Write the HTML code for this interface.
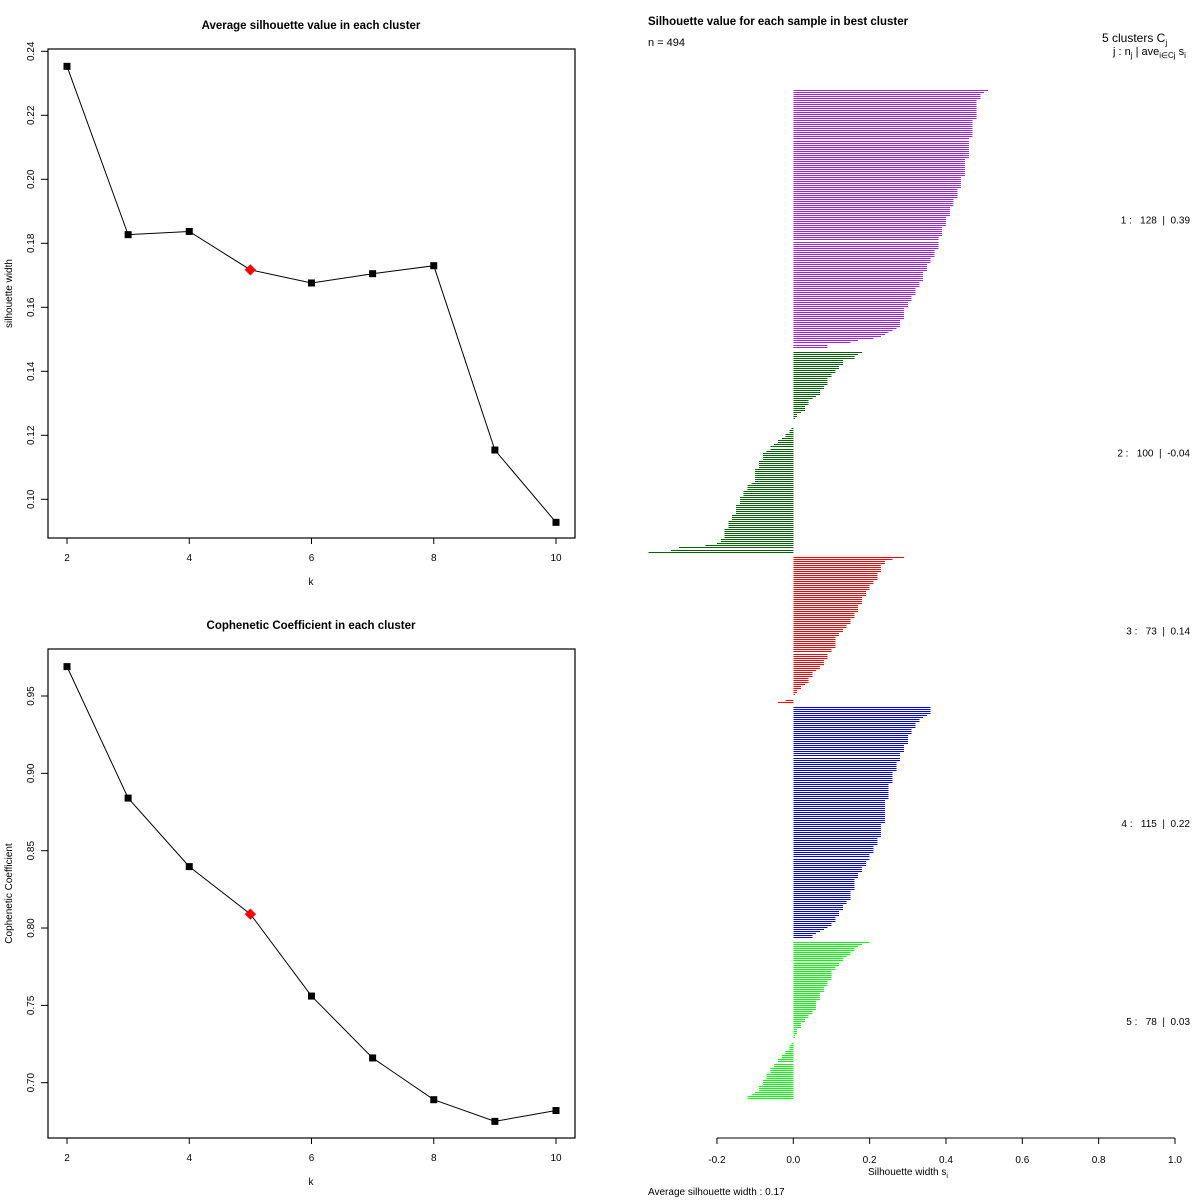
<!DOCTYPE html>
<html><head><meta charset="utf-8"><style>
html,body{margin:0;padding:0;background:#fff;}
svg{display:block;font-family:"Liberation Sans",sans-serif;}
</style></head><body>
<svg id="root" width="1200" height="1200" viewBox="0 0 1200 1200">
<g id="top"></g>
<g id="bot"></g>
<g id="sil"></g>
</svg>
<script>
const kValues=[2,3,4,5,6,7,8,9,10];
const avgSil=[0.2353,0.1827,0.1837,0.1717,0.1676,0.1705,0.1730,0.1154,0.0928];
const coph=[0.969,0.884,0.8397,0.809,0.756,0.716,0.689,0.675,0.682];
const bestK=5;
const topTicks=["0.10","0.12","0.14","0.16","0.18","0.20","0.22","0.24"];
const botTicks=["0.70","0.75","0.80","0.85","0.90","0.95"];
const xTicks=[2,4,6,8,10];
const silTicks=["-0.2","0.0","0.2","0.4","0.6","0.8","1.0"];
const clusterColors=["#A020F0","#006400","#FF0000","#0000FF","#00FF00"];
const clusterLabels=["1 :   128  |  0.39","2 :   100  |  -0.04","3 :   73  |  0.14","4 :   115  |  0.22","5 :   78  |  0.03"];
const sil1=[.51,.50,.49,.49,.49,.48,.48,.48,.48,.48,.48,.48,.48,.48,.48,.47,.47,.47,.47,.47,.47,.47,.47,.47,.46,.46,.46,.46,.46,.46,.46,.46,.46,.46,.45,.45,.45,.45,.45,.45,.45,.45,.45,.44,.44,.44,.44,.44,.44,.43,.43,.43,.43,.43,.42,.42,.42,.42,.41,.41,.41,.41,.41,.40,.40,.40,.40,.40,.39,.39,.39,.39,.39,.38,.38,.38,.38,.38,.38,.37,.37,.37,.37,.36,.36,.36,.35,.35,.35,.35,.34,.34,.34,.34,.34,.33,.33,.33,.32,.32,.32,.32,.31,.31,.31,.30,.30,.30,.29,.29,.29,.29,.29,.29,.28,.28,.28,.28,.27,.26,.25,.24,.23,.21,.17,.15,.09,.09];
const sil2=[.18,.17,.16,.16,.13,.13,.13,.12,.12,.11,.11,.10,.10,.09,.09,.09,.09,.08,.08,.07,.07,.07,.06,.05,.04,.04,.04,.03,.03,.03,.02,.01,.01,.005,0,0,0,0,-.005,-.01,-.01,-.02,-.02,-.03,-.04,-.04,-.05,-.06,-.06,-.07,-.08,-.08,-.08,-.08,-.09,-.09,-.09,-.09,-.1,-.1,-.1,-.1,-.1,-.1,-.1,-.11,-.12,-.12,-.12,-.13,-.13,-.13,-.14,-.14,-.14,-.14,-.15,-.15,-.15,-.15,-.15,-.16,-.16,-.16,-.17,-.17,-.17,-.17,-.18,-.18,-.18,-.18,-.18,-.19,-.19,-.2,-.23,-.30,-.32,-.38];
const sil3=[.29,.26,.24,.24,.23,.23,.23,.23,.22,.22,.22,.22,.21,.21,.20,.20,.20,.19,.19,.19,.18,.18,.18,.18,.17,.17,.17,.17,.16,.16,.16,.15,.15,.15,.14,.14,.13,.13,.12,.12,.11,.11,.11,.11,.11,.11,.10,.10,.09,.09,.09,.08,.08,.08,.07,.07,.06,.05,.05,.05,.04,.04,.04,.03,.02,.02,.01,.01,.005,0,0,-.02,-.04];
const sil4=[.36,.36,.36,.36,.35,.34,.33,.33,.32,.32,.32,.31,.31,.31,.30,.30,.30,.30,.30,.29,.29,.29,.29,.28,.28,.28,.28,.27,.27,.27,.27,.27,.26,.26,.26,.26,.26,.26,.25,.25,.25,.25,.25,.25,.25,.25,.24,.24,.24,.24,.24,.24,.24,.24,.24,.24,.24,.24,.23,.23,.23,.23,.23,.23,.23,.22,.22,.22,.22,.21,.21,.21,.21,.20,.20,.20,.19,.19,.19,.18,.18,.18,.17,.17,.17,.16,.16,.16,.16,.16,.16,.15,.15,.15,.15,.15,.14,.14,.13,.13,.13,.12,.12,.12,.11,.11,.11,.10,.10,.09,.08,.07,.06,.05,.05];
const sil5=[.20,.18,.17,.16,.16,.15,.15,.14,.13,.13,.12,.12,.11,.11,.10,.10,.10,.10,.10,.09,.09,.09,.08,.08,.08,.07,.07,.07,.07,.06,.06,.06,.06,.06,.05,.05,.04,.04,.03,.03,.02,.02,.02,.01,.01,.01,.005,.005,0,0,-.005,-.01,-.01,-.01,-.02,-.02,-.03,-.03,-.04,-.04,-.05,-.05,-.06,-.06,-.06,-.07,-.07,-.07,-.08,-.08,-.08,-.09,-.09,-.09,-.10,-.11,-.12,-.12];
const clusters=[sil1,sil2,sil3,sil4,sil5];

const NS="http://www.w3.org/2000/svg";
function mk(parent,tag,attrs,txt){const e=document.createElementNS(NS,tag);for(const k in attrs)e.setAttribute(k,attrs[k]);if(txt!==undefined)e.textContent=txt;parent.appendChild(e);return e;}

function linePlot(g,box,vals,ymin,ymax,yTicks,title,ylab){
  const xs=k=>box.x0+(k-2)/8*(box.x1-box.x0-38)+19;
  const ys=v=>box.yb-(v-ymin)/(ymax-ymin)*(box.yb-box.yt);
  const fr=mk(g,'rect',{x:48,y:box.top,width:527,height:box.bottom-box.top,fill:'none',stroke:'#000','stroke-width':1.2});
  
  const t=mk(g,'text',{x:311,y:box.top-20,'text-anchor':'middle','font-size':11.5,'font-weight':'bold'},title);
  
  yTicks.forEach(s=>{const v=parseFloat(s),y=ys(v);
    mk(g,'line',{x1:41,x2:48,y1:y,y2:y,stroke:'#000'});
    const l=mk(g,'text',{transform:`translate(34,${y}) rotate(-90)`,'text-anchor':'middle','font-size':10},s);
    });
  xTicks.forEach(k=>{const x=xs(k);
    mk(g,'line',{x1:x,x2:x,y1:box.bottom,y2:box.bottom+6,stroke:'#000'});
    const l=mk(g,'text',{x:x,y:box.bottom+23,'text-anchor':'middle','font-size':10},String(k));
    });
  const xl=mk(g,'text',{x:311,y:box.bottom+47,'text-anchor':'middle','font-size':10},'k');
  
  const yl=mk(g,'text',{transform:`translate(12,${(box.top+box.bottom)/2}) rotate(-90)`,'text-anchor':'middle','font-size':10},ylab);
  
  const pts=kValues.map((k,i)=>xs(k)+','+ys(vals[i])).join(' ');
  const pl=mk(g,'polyline',{points:pts,fill:'none',stroke:'#000','stroke-width':1});
  
  kValues.forEach((k,i)=>{const x=xs(k),y=ys(vals[i]);let p;
    if(k===bestK){p=mk(g,'rect',{x:x-4,y:y-4,width:8,height:8,fill:'#f00',transform:`rotate(45 ${x} ${y})`});}
    else p=mk(g,'rect',{x:x-3.5,y:y-3.5,width:7,height:7,fill:'#000'});
    });
}
linePlot(document.getElementById('top'),{x0:48,x1:575,top:49,bottom:538,yb:499.3,yt:51.3},avgSil,0.10,0.24,topTicks,'Average silhouette value in each cluster','silhouette width');
linePlot(document.getElementById('bot'),{x0:48,x1:575,top:649,bottom:1138,yb:1082.7,yt:696},coph,0.70,0.95,botTicks,'Cophenetic Coefficient in each cluster','Cophenetic Coefficient');

// silhouette
const sg=document.getElementById('sil');
const sx=v=>793.3+v*381.7;
const pitch=2.02,gap=3;
let y=90;
clusters.forEach((arr,c)=>{
  const y0=y;
  arr.forEach(v=>{
    const x0=Math.min(sx(0),sx(v)),w=Math.abs(sx(v)-sx(0));
    const r=mk(sg,'rect',{x:x0,y:Math.round(y),width:Math.max(w,0),height:1,fill:clusterColors[c],'shape-rendering':'crispEdges'});
    
    
    y+=pitch;
  });
  const lab=mk(sg,'text',{x:1190,y:(y0+y)/2+4,'text-anchor':'end','font-size':10,style:'white-space:pre'},clusterLabels[c]);
  
  
  y+=gap;
});
mk(sg,'line',{x1:sx(-0.2),x2:sx(1),y1:1138,y2:1138,stroke:'#000'});
silTicks.forEach(s=>{const x=sx(parseFloat(s));
  mk(sg,'line',{x1:x,x2:x,y1:1138,y2:1144,stroke:'#000'});
  const l=mk(sg,'text',{x:x,y:1163,'text-anchor':'middle','font-size':10},s);
  });
</script>
<div style="position:absolute;left:0;top:0;width:1200px;height:1200px;pointer-events:none;font-family:'Liberation Sans',sans-serif;">
<div style="position:absolute;left:648px;top:16px;font-size:11.5px;font-weight:bold;">Silhouette value for each sample in best cluster</div>
<div style="position:absolute;left:648px;top:37px;font-size:11px;">n = 494</div>
<div style="position:absolute;left:1102px;top:31px;font-size:12px;">5  clusters  C<sub style="font-size:8px">j</sub></div>
<div style="position:absolute;left:1113px;top:46px;font-size:11px;white-space:nowrap;">j :  n<sub style="font-size:8px">j</sub> | ave<sub style="font-size:8px">i∈Cj</sub>  s<sub style="font-size:8px">i</sub></div>
<div style="position:absolute;left:868px;top:1167px;font-size:10px;">Silhouette width s<sub style="font-size:7px">i</sub></div>
<div style="position:absolute;left:648px;top:1187px;font-size:10px;">Average silhouette width :  0.17</div>
</div>
</body></html>
